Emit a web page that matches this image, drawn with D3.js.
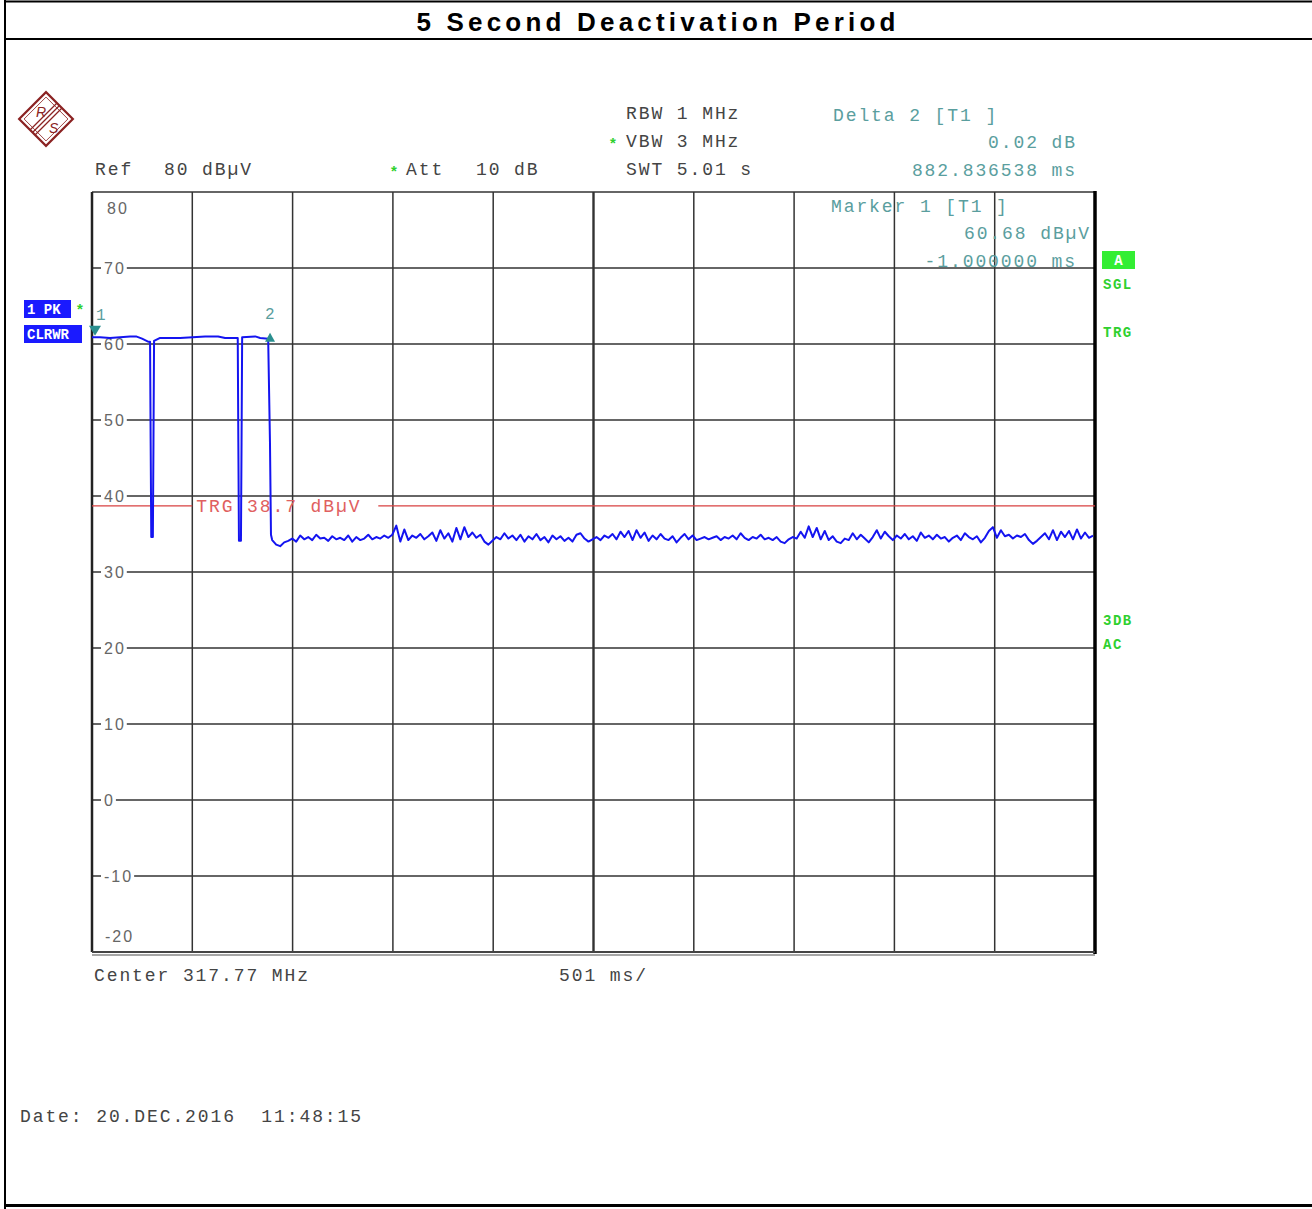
<!DOCTYPE html>
<html>
<head>
<meta charset="utf-8">
<script src="https://cdn.jsdelivr.net/npm/d3@7/dist/d3.min.js"></script>
<style>
  body { margin: 0; background: #fff; }
  svg { display: block; }
  .mono { font-family: 'Liberation Mono', monospace; font-size: 18px; letter-spacing: 1.9px; white-space: pre; }
</style>
</head>
<body>
<div id="chart"></div>
<script>
// Sweep setup (ms across, dBuV up)
const sweepMs = [0, 5010];
const levelRange = [-20, 80];
const divMs = 501;
const gridLevels = [70, 60, 50, 40, 30, 20, 10, 0, -10];
const trgLevel = 38.7;

// Trace before the signal goes away: pulse train with two dropouts
const headTime = [0, 40, 90, 140, 190, 220, 250, 280, 290, 293, 296, 304, 307, 310, 340, 440, 565, 630, 665, 728,
  731, 734, 744, 747, 750, 815, 840, 880, 889, 894];
const headLevel = [60.9, 60.9, 60.8, 60.9, 61.0, 61.0, 60.7, 60.3, 60.3, 47.0, 34.6, 34.6, 47.0, 60.4, 60.8, 60.8, 61.0, 61.0, 60.8, 60.8,
  47.0, 34.1, 34.1, 47.0, 60.9, 61.0, 60.8, 60.7, 47.0, 34.9];

// Noise floor after deactivation, one reading every 20 ms from 900 ms
const noiseStartMs = 900;
const noiseStepMs = 20;
const noiseLevel = [
  34.2, 33.6, 33.4, 33.9, 34.1, 34.4, 34.0, 34.8, 34.3, 34.6,
  34.2, 34.9, 34.4, 34.5, 34.1, 34.7, 34.3, 34.5, 34.2, 34.8,
  34.0, 34.6, 34.2, 34.4, 34.9, 34.3, 34.6, 34.4, 34.8, 34.5,
  34.9, 36.1, 34.0, 35.6, 34.2, 34.8, 34.5, 35.0, 34.3, 34.7,
  35.2, 34.1, 35.5, 34.4, 35.1, 34.0, 35.8, 34.3, 35.9, 34.6,
  35.2, 34.5, 34.9, 34.0, 33.6, 34.1, 34.6, 34.3, 35.1, 34.4,
  34.8, 34.2, 34.9, 34.0, 34.7, 34.3, 35.0, 34.2, 34.6, 33.9,
  34.8, 34.3, 34.7, 34.1, 34.5, 34.0, 34.9, 35.1, 34.4, 34.0,
  34.3, 34.6, 34.2, 34.8, 34.5, 35.0, 34.3, 35.3, 34.6, 35.4,
  34.2, 35.5, 34.5, 35.2, 34.1, 34.8, 34.3, 35.0, 34.4, 34.2,
  34.7, 33.9, 34.5, 35.0, 34.3, 34.8, 34.2, 34.4, 34.6, 34.3,
  34.5, 34.7, 34.2, 34.6, 34.4, 34.8, 34.3, 35.1, 34.5, 34.2,
  34.6, 34.4, 34.9, 34.3, 34.5, 34.2, 34.6, 34.0, 33.8, 34.3,
  34.6, 34.4, 35.3, 34.5, 36.0, 34.6, 35.8, 34.3, 35.4, 34.2,
  34.7, 34.0, 33.8, 34.4, 34.2, 35.1, 34.3, 34.9, 34.4, 33.9,
  34.6, 35.5, 34.4, 35.3, 34.7, 34.2, 34.8, 34.4, 35.0, 34.3,
  34.7, 34.1, 35.2, 34.5, 34.8, 34.3, 34.9, 34.4, 34.6, 34.0,
  34.5, 34.8, 34.2, 35.1, 34.6, 34.3, 34.7, 33.9, 34.5, 35.4,
  35.9, 34.5, 35.5, 34.7, 34.9, 34.4, 34.8, 34.6, 35.0, 34.2,
  33.7, 34.1, 34.6, 35.1, 34.3, 35.5, 34.2, 35.3, 34.6, 35.4,
  34.3, 35.6, 34.4, 35.2, 34.5, 34.8
];

// Markers
const marker1 = { ms: -1, level: 60.68 };
const marker2 = { ms: 881.8, level: 60.7 };

const W = 1312, H = 1209;
const plot = { left: 92, right: 1095, top: 192, bottom: 952 };
const ink = '#444';
const teal = '#5a9e9e';
const green = '#2fd02f';

const svg = d3.select('#chart').append('svg')
  .attr('width', W)
  .attr('height', H);

const x = d3.scaleLinear().domain(sweepMs).range([plot.left, plot.right]);
const y = d3.scaleLinear().domain(levelRange).range([plot.bottom, plot.top]);

// Page frame + title
svg.append('line').attr('x1', 5).attr('x2', W).attr('y1', 1.5).attr('y2', 1.5).attr('stroke', '#000').attr('stroke-width', 2);
svg.append('line').attr('x1', 5).attr('x2', W).attr('y1', 39).attr('y2', 39).attr('stroke', '#000').attr('stroke-width', 2);
svg.append('line').attr('x1', 5).attr('x2', W).attr('y1', 1205.5).attr('y2', 1205.5).attr('stroke', '#000').attr('stroke-width', 3);
svg.append('line').attr('x1', 5).attr('x2', 5).attr('y1', 0).attr('y2', H).attr('stroke', '#000').attr('stroke-width', 2);

svg.append('text')
  .attr('x', 658)
  .attr('y', 31)
  .attr('text-anchor', 'middle')
  .style('font-family', "'Liberation Sans', Arial, sans-serif")
  .style('font-weight', 'bold')
  .style('font-size', '26px')
  .style('letter-spacing', '4.2px')
  .attr('fill', '#000')
  .text('5 Second Deactivation Period');

// R&S logo
const logo = svg.append('g').attr('transform', 'translate(46,119)').attr('stroke', '#8b2323').attr('fill', 'none');
logo.append('rect').attr('x', -19).attr('y', -19).attr('width', 38).attr('height', 38)
  .attr('transform', 'rotate(45)').attr('stroke-width', 2.2);
logo.append('rect').attr('x', -15.5).attr('y', -15.5).attr('width', 31).attr('height', 31)
  .attr('transform', 'rotate(45)').attr('stroke-width', 0.8);
[-2.5, 0, 2.5].forEach(o => {
  logo.append('line').attr('x1', 13 + o).attr('y1', -13 + o).attr('x2', -13 + o).attr('y2', 13 + o)
    .attr('stroke-width', 1.3);
});
logo.append('text').attr('x', -10).attr('y', -2).attr('stroke', 'none').attr('fill', '#8b2323')
  .style('font-family', "'Liberation Sans', sans-serif").style('font-size', '14px').style('font-style', 'italic').text('R');
logo.append('text').attr('x', 3).attr('y', 14).attr('stroke', 'none').attr('fill', '#8b2323')
  .style('font-family', "'Liberation Sans', sans-serif").style('font-size', '14px').style('font-style', 'italic').text('S');

// Header texts
function mono(xp, yp, str, color, anchor) {
  return svg.append('text')
    .attr('class', 'mono')
    .attr('x', xp)
    .attr('y', yp)
    .attr('fill', color || ink)
    .attr('text-anchor', anchor || 'start')
    .text(str);
}
function star(xp, yp) {
  svg.append('text').attr('x', xp).attr('y', yp).attr('fill', green)
    .style('font-family', "'Liberation Sans', sans-serif").style('font-size', '15px').style('font-weight', 'bold')
    .text('*');
}

mono(626, 119, 'RBW 1 MHz');
star(610, 148); mono(626, 147, 'VBW 3 MHz');
mono(626, 175, 'SWT 5.01 s');
mono(95, 175, 'Ref');
mono(164, 175, '80 dBµV');
star(391, 176); mono(406, 175, 'Att');
mono(476, 175, '10 dB');

mono(833, 121, 'Delta 2 [T1 ]', teal);
mono(1077, 148, '0.02 dB', teal, 'end');
mono(1077, 176, '882.836538 ms', teal, 'end');

// Plot grid
const grid = svg.append('g');
const vTicks = d3.range(sweepMs[0] + divMs, sweepMs[1], divMs);
grid.selectAll('.vgrid')
  .data(vTicks)
  .join('line')
  .attr('x1', d => x(d)).attr('x2', d => x(d))
  .attr('y1', plot.top).attr('y2', plot.bottom)
  .attr('stroke', '#333')
  .attr('stroke-width', (d, i) => i === 4 ? 2.4 : 1.5);

grid.selectAll('.hgrid')
  .data(gridLevels)
  .join('line')
  .attr('x1', plot.left).attr('x2', plot.right)
  .attr('y1', d => y(d)).attr('y2', d => y(d))
  .attr('stroke', '#333')
  .attr('stroke-width', 1.5);

// Frame
svg.append('line').attr('x1', plot.left).attr('x2', plot.right).attr('y1', plot.top).attr('y2', plot.top)
  .attr('stroke', '#333').attr('stroke-width', 1.5);
svg.append('line').attr('x1', plot.left).attr('x2', plot.left).attr('y1', plot.top).attr('y2', plot.bottom)
  .attr('stroke', '#222').attr('stroke-width', 2.5);
svg.append('line').attr('x1', plot.right).attr('x2', plot.right).attr('y1', plot.top - 1).attr('y2', plot.bottom + 2)
  .attr('stroke', '#000').attr('stroke-width', 3.5);
svg.append('line').attr('x1', plot.left).attr('x2', plot.right).attr('y1', plot.bottom).attr('y2', plot.bottom)
  .attr('stroke', '#444').attr('stroke-width', 2);
svg.append('line').attr('x1', plot.left).attr('x2', plot.right).attr('y1', plot.bottom + 3).attr('y2', plot.bottom + 3)
  .attr('stroke', '#888').attr('stroke-width', 1.5);

// Level labels sitting on the grid lines
const labelFont = "'Liberation Sans', Arial, sans-serif";
const labelG = svg.append('g');
gridLevels.forEach(v => {
  const g = labelG.append('g');
  const t = g.append('text')
    .attr('x', plot.left + 12)
    .attr('y', y(v) + 6)
    .attr('fill', '#666')
    .style('font-family', labelFont)
    .style('font-size', '16px')
    .style('letter-spacing', '2px')
    .text(v);
  const bb = t.node().getBBox();
  g.insert('rect', 'text')
    .attr('x', plot.left + 9)
    .attr('y', y(v) - 2)
    .attr('width', bb.width + 4)
    .attr('height', 4)
    .attr('fill', '#fff');
});
svg.append('text').attr('x', plot.left + 15).attr('y', y(levelRange[1]) + 22)
  .attr('fill', '#666').style('font-family', labelFont).style('font-size', '16px').style('letter-spacing', '2px')
  .text(levelRange[1]);
svg.append('text').attr('x', plot.left + 13).attr('y', y(levelRange[0]) - 10)
  .attr('fill', '#666').style('font-family', labelFont).style('font-size', '16px').style('letter-spacing', '2px')
  .text(levelRange[0]);

// Trigger line with its label
const trgLabelStart = x(divMs) + 4;
svg.append('line').attr('x1', plot.left).attr('x2', x(divMs)).attr('y1', y(trgLevel)).attr('y2', y(trgLevel))
  .attr('stroke', '#d84040').attr('stroke-width', 1.3);
svg.append('line').attr('x1', trgLabelStart + 182).attr('x2', plot.right).attr('y1', y(trgLevel)).attr('y2', y(trgLevel))
  .attr('stroke', '#d84040').attr('stroke-width', 1.3);
mono(trgLabelStart, y(trgLevel) + 6, 'TRG 38.7 dBµV', '#e06060');

// Marker 1 text block
mono(831, 212, 'Marker 1 [T1 ]', teal);
mono(1091, 239, '60.68 dBµV', teal, 'end');
mono(1077, 267, '-1.000000 ms', teal, 'end');

// Trace
const tracePts = headTime.map((t, i) => [t, headLevel[i]])
  .concat(noiseLevel.map((v, i) => [noiseStartMs + i * noiseStepMs, v]));

const line = d3.line()
  .x(d => x(d[0]))
  .y(d => y(d[1]));

svg.append('path')
  .datum(tracePts)
  .attr('d', line)
  .attr('fill', 'none')
  .attr('stroke', '#1414f0')
  .attr('stroke-width', 2)
  .attr('stroke-linejoin', 'round');

// Markers
const mColor = '#2a8f8f';
const m1x = Math.max(x(marker1.ms), plot.left) + 3;
svg.append('path')
  .attr('d', `M${m1x - 6},${y(marker1.level) - 13} L${m1x + 6},${y(marker1.level) - 13} L${m1x},${y(marker1.level) - 3} Z`)
  .attr('fill', mColor);
svg.append('text').attr('x', m1x + 1).attr('y', y(marker1.level) - 19).attr('fill', teal)
  .attr('class', 'mono').style('font-size', '16px').text('1');

const m2x = x(marker2.ms) + 1.5;
svg.append('path')
  .attr('d', `M${m2x - 5},${y(marker2.level) + 3} L${m2x + 5},${y(marker2.level) + 3} L${m2x},${y(marker2.level) - 6} Z`)
  .attr('fill', mColor);
svg.append('text').attr('x', m2x - 5).attr('y', y(marker2.level) - 20).attr('fill', teal)
  .attr('class', 'mono').style('font-size', '16px').text('2');

// Trace badges on the left
function badge(xp, yp, w, str, fill, txtFill) {
  svg.append('rect').attr('x', xp).attr('y', yp).attr('width', w).attr('height', 18).attr('fill', fill);
  svg.append('text').attr('x', xp + 3).attr('y', yp + 14).attr('fill', txtFill)
    .style('font-family', "'Liberation Mono', monospace").style('font-size', '14px').style('font-weight', 'bold')
    .style('white-space', 'pre')
    .text(str);
}
badge(24, 300, 47, '1 PK', '#1a1aff', '#fff');
badge(24, 325, 58, 'CLRWR', '#1a1aff', '#fff');
star(77, 314);

// Status flags on the right
svg.append('rect').attr('x', 1102).attr('y', 251).attr('width', 33).attr('height', 18).attr('fill', '#33ee33');
svg.append('text').attr('x', 1118.5).attr('y', 265).attr('text-anchor', 'middle').attr('fill', '#fff')
  .style('font-family', "'Liberation Mono', monospace").style('font-size', '14px').style('font-weight', 'bold').text('A');
[['SGL', 289], ['TRG', 337], ['3DB', 625], ['AC', 649]].forEach(([s, yp]) => {
  svg.append('text').attr('x', 1103).attr('y', yp).attr('fill', green)
    .style('font-family', "'Liberation Mono', monospace").style('font-size', '14px').style('font-weight', 'bold')
    .style('letter-spacing', '1.5px').text(s);
});

// Footer texts
mono(94, 981, 'Center 317.77 MHz');
mono(559, 981, '501 ms/');
mono(20, 1122, 'Date: 20.DEC.2016  11:48:15');
</script>
</body>
</html>
